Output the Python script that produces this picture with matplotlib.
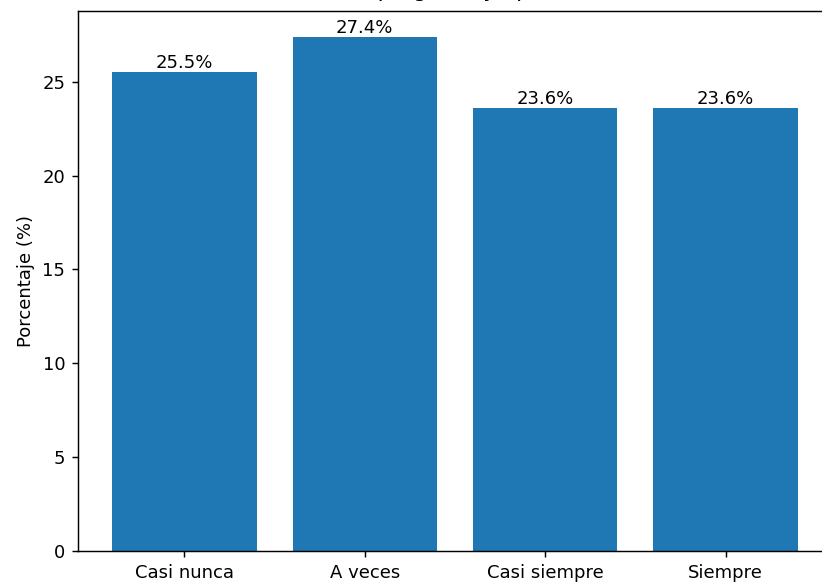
import matplotlib
matplotlib.use("Agg")
import matplotlib.pyplot as plt

categorias = ["Casi nunca", "A veces", "Casi siempre", "Siempre"]
porcentajes = [25.5, 27.4, 23.6, 23.6]
titulo = "Una pregunta y opinión"

dpi = 130
fig = plt.figure(figsize=(822 / dpi, 584 / dpi), dpi=dpi)
# the reference is a crop: the axes run past the right edge
ax = fig.add_axes([78 / 822, 33 / 584, 754 / 822, 540 / 584])

bars = ax.bar(categorias, porcentajes, color="#1f77b4")
ax.bar_label(bars, fmt="%.1f%%", fontsize=10)
ax.set_ylabel("Porcentaje (%)")
ax.set_title(titulo, fontsize=12, pad=8)
ax.spines["right"].set_visible(False)

fig.savefig("out.png", dpi=dpi)
